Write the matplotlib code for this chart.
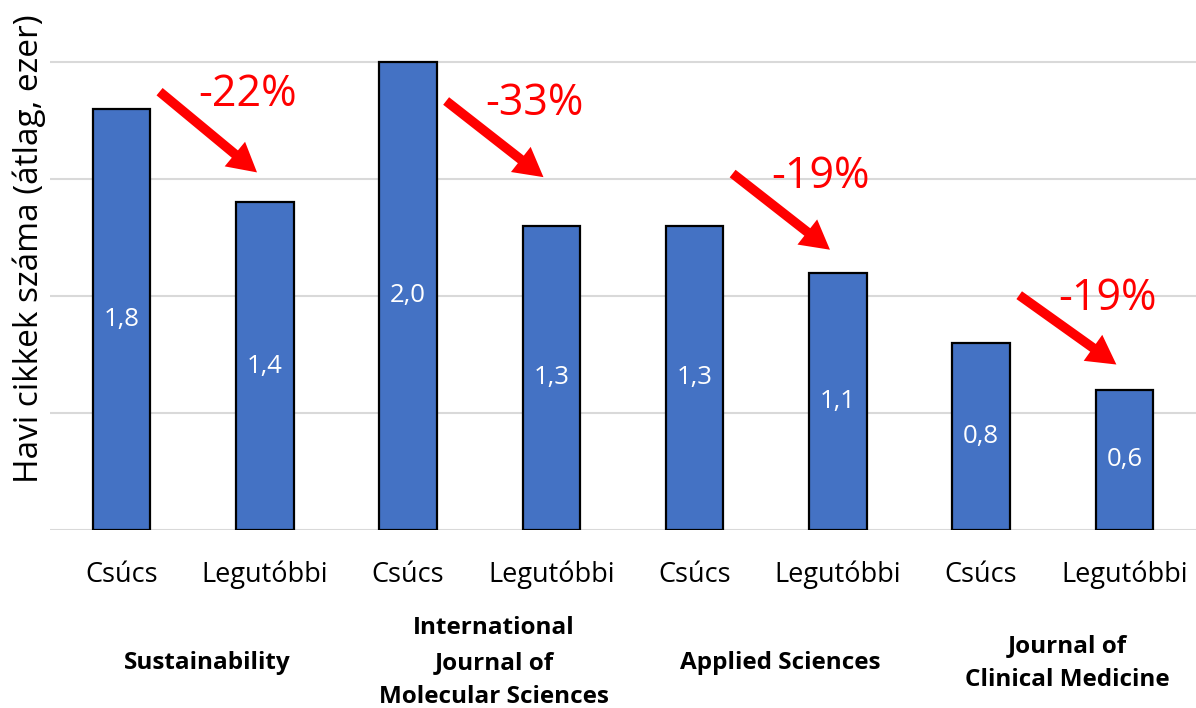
import matplotlib.pyplot as plt
import numpy as np

plt.rcParams['font.family'] = ['Open Sans', 'DejaVu Sans']

# data
tick_labels = ["Csúcs", "Legutóbbi"] * 4
journals = ["Sustainability",
            "International\nJournal of\nMolecular Sciences",
            "Applied Sciences",
            "Journal of\nClinical Medicine"]
values = [1.8, 1.4, 2.0, 1.3, 1.3, 1.1, 0.8, 0.6]
value_labels = ["1,8", "1,4", "2,0", "1,3", "1,3", "1,1", "0,8", "0,6"]
changes = ["-22%", "-33%", "-19%", "-19%"]
# hand placed arrow start / end heights (data units), like in the original
arrow_y0 = [1.88, 1.84, 1.53, 1.01]
arrow_y1 = [1.52, 1.50, 1.19, 0.70]

fig = plt.figure(figsize=(11.96, 7.08), dpi=100)
ax = fig.add_axes([50/1196, 178/708, 1 - 50/1196, 515/708])

x = np.arange(len(values))
ax.bar(x, values, width=0.4, color="#4472C4", edgecolor="black", linewidth=1.6, zorder=3)

for xi, v, lab in zip(x, values, value_labels):
    ax.text(xi, v / 2, lab, color="white", fontsize=18.5, ha="center", va="center", zorder=4)

for i, (txt, y0, y1) in enumerate(zip(changes, arrow_y0, arrow_y1)):
    ax.annotate("", xy=(2*i + 0.96, y1), xytext=(2*i + 0.25, y0),
                arrowprops=dict(arrowstyle="simple,head_length=0.9,head_width=1.0,tail_width=0.3",
                                mutation_scale=23, fc="red", ec="none"), zorder=5)
    ax.text(2*i + 0.88, y0 - 0.02, txt, color="red", fontsize=31, ha="center", va="center", zorder=5)

for i, name in enumerate(journals):
    ax.text(2*i + 0.6, -0.258, name, transform=ax.get_xaxis_transform(),
            ha="center", va="center", fontsize=17.5, fontweight="bold", linespacing=1.58)

ax.set_xlim(-0.5, 7.5)
ax.set_ylim(0, 2.2)
ax.set_yticks([0, 0.5, 1.0, 1.5, 2.0])
ax.set_yticklabels([])
ax.set_xticks(x)
ax.set_xticklabels(tick_labels, fontsize=19.5)
ax.tick_params(axis="both", length=0, pad=22)
ax.grid(axis="y", color="#D9D9D9", linewidth=1.5, zorder=0)
for s in ax.spines.values():
    s.set_visible(False)

ax.set_ylabel("Havi cikkek száma (átlag, ezer)", fontsize=24)
ax.yaxis.set_label_coords(-0.0035, 0.546)

fig.savefig("out.png", dpi=100)
